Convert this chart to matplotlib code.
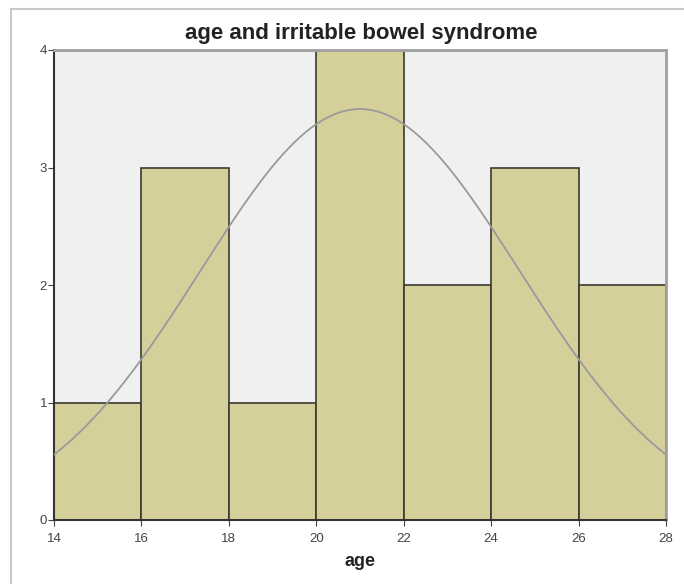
import numpy as np
import matplotlib.pyplot as plt
from matplotlib.patches import Rectangle

plt.rcParams['font.family'] = ['Liberation Sans', 'DejaVu Sans']

# histogram of age (bin edges and counts)
bin_edges = [14, 16, 18, 20, 22, 24, 26, 28]
counts = [1, 3, 1, 4, 2, 3, 2]
x_ticks = [14, 16, 18, 20, 22, 24, 26, 28]
y_ticks = [0, 1, 2, 3, 4]

# fitted normal curve
mean_age = 21.0
std_age = 3.65

fig = plt.figure(figsize=(6.84, 5.84), dpi=100)
ax = fig.add_axes([54 / 684, 64 / 584, 612 / 684, 470 / 584])

# outer frame like the SPSS output window
fig.patches.append(Rectangle((11 / 684, -0.1), 2, (584 - 9) / 584 + 0.1,
                             transform=fig.transFigure, fill=False,
                             edgecolor='#c8c8c8', linewidth=1.5))

ax.set_facecolor('#f0f0f0')
widths = np.diff(bin_edges)
ax.bar(bin_edges[:-1], counts, width=widths, align='edge',
       color='#d5d09a', edgecolor='#3a3a30', linewidth=1.2, zorder=2)

n = sum(counts)
bw = widths[0]
xs = np.linspace(14, 28, 300)
ys = n * bw / (np.sqrt(2 * np.pi) * std_age) * np.exp(-(xs - mean_age) ** 2 / (2 * std_age ** 2))
ax.plot(xs, ys, color='#9a9a9a', linewidth=1.3, zorder=3)

ax.set_xlim(14, 28)
ax.set_ylim(0, 4)
ax.set_xticks(x_ticks)
ax.set_yticks(y_ticks)
ax.tick_params(labelsize=9.5, colors='#444444', length=4)
ax.tick_params(axis='x', pad=5)
ax.tick_params(axis='y', pad=1)

ax.spines['left'].set_color('#333333')
ax.spines['bottom'].set_color('#333333')
ax.spines['left'].set_linewidth(1.5)
ax.spines['bottom'].set_linewidth(1.5)
ax.spines['top'].set_color('#a0a0a0')
ax.spines['right'].set_color('#a0a0a0')
ax.spines['top'].set_linewidth(2)
ax.spines['right'].set_linewidth(2)

ax.set_xlabel('age', fontsize=13, fontweight='bold', color='#222222', labelpad=6)
fig.text(361 / 684, 1 - 33 / 584, 'age and irritable bowel syndrome',
         ha='center', va='center', fontsize=16, fontweight='bold', color='#222222')

plt.savefig('out.png', dpi=100)
